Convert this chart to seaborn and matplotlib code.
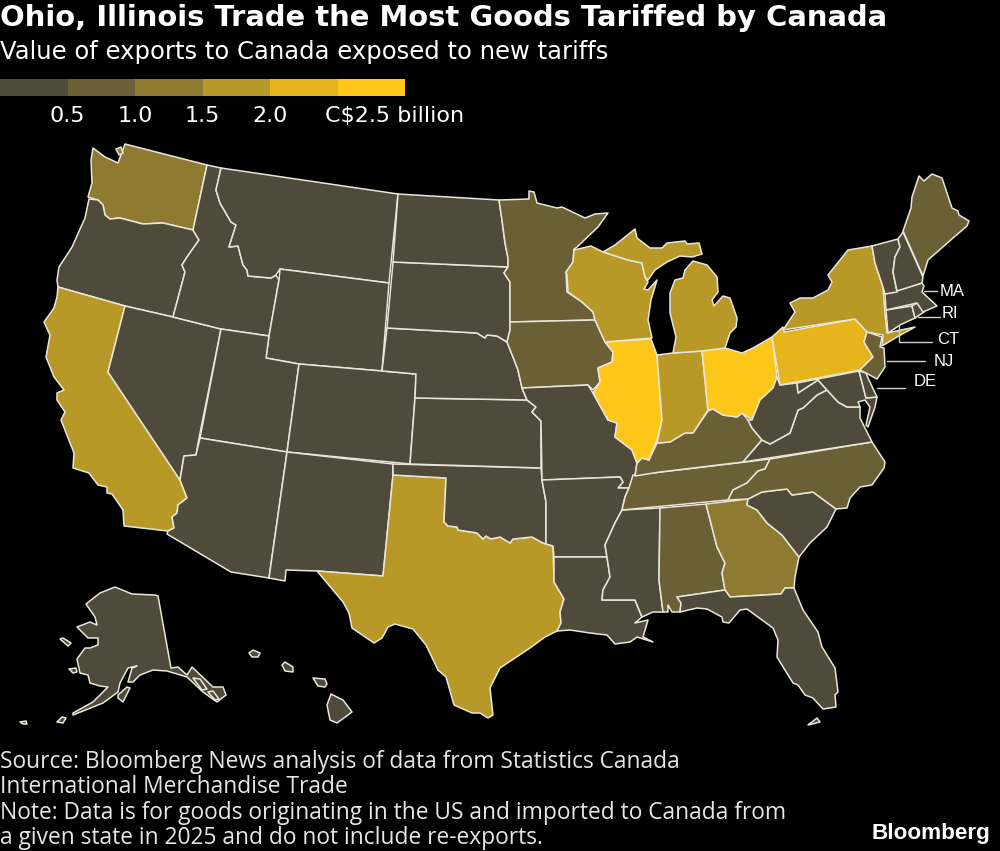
import numpy as np
import seaborn as sns
import matplotlib.pyplot as plt
from matplotlib.colors import ListedColormap, BoundaryNorm

# value bins and colours, C$ billion
bin_edges = [0, 0.5, 1.0, 1.5, 2.0, 2.5, 3.0]
bin_colors = ["#4f4a39", "#6b5f36", "#8e7b31", "#b89827", "#e6b41b", "#ffc61a"]
legend_mids = [0.25, 0.75, 1.25, 1.75, 2.25, 2.75]

# estimated from the map colours (only the bin can be read)
states = ["WA", "OR", "CA", "NV", "ID", "MT", "WY", "UT", "CO", "AZ", "NM", "TX", "OK", "KS", "NE", "SD", "ND",
          "MN", "IA", "MO", "AR", "LA", "MS", "AL", "TN", "KY", "IL", "IN", "OH", "WI", "MI", "GA", "FL", "SC",
          "NC", "VA", "WV", "MD", "DE", "PA", "NJ", "NY", "CT", "RI", "MA", "VT", "NH", "ME", "AK", "HI"]
exports = [1.25, 0.25, 1.75, 0.25, 0.25, 0.25, 0.25, 0.25, 0.25, 0.25, 0.25, 1.75, 0.25, 0.25, 0.25, 0.25, 0.25,
           0.75, 0.75, 0.25, 0.25, 0.25, 0.25, 0.75, 0.75, 0.75, 2.7, 1.75, 2.7, 1.75, 1.75, 1.25, 0.25, 0.25,
           0.75, 0.25, 0.25, 0.25, 0.25, 2.25, 0.75, 1.75, 0.25, 0.25, 0.25, 0.25, 0.25, 0.75, 0.25, 0.25]

# state outlines, map units
outlines = {
    "WA": [[(93, 148), (105, 157), (118, 163), (121, 155), (125, 144), (207, 165), (193, 230), (163, 223), (143, 224),
            (120, 218), (110, 219), (105, 215), (103, 205), (98, 200), (88, 197), (92, 183), (91, 160)],
           [(116, 149), (121, 147), (123, 153), (119, 155)]],
    "OR": [[(89, 199), (98, 200), (103, 205), (105, 215), (110, 219), (120, 218), (143, 224), (163, 223), (193, 230),
            (199, 240), (187, 257), (182, 265), (185, 272), (173, 317), (125, 306), (58, 287), (57, 280), (59, 267),
            (72, 247), (85, 218)]],
    "CA": [[(58, 287), (125, 306), (108, 372), (180, 480), (187, 498), (178, 505), (177, 513), (172, 517), (174, 528),
            (168, 531), (124, 526), (123, 510), (112, 494), (107, 493), (107, 487), (98, 485), (89, 473), (73, 468),
            (74, 453), (61, 420), (65, 412), (57, 400), (57, 393), (64, 390), (54, 377), (46, 357), (50, 335),
            (44, 322), (54, 308), (57, 297)]],
    "NV": [[(125, 306), (173, 317), (221, 329), (199, 438), (196, 455), (184, 456), (180, 480), (108, 372)]],
    "ID": [[(207, 165), (221, 168), (216, 190), (220, 203), (231, 222), (236, 225), (229, 247), (238, 246), (243, 265),
            (247, 270), (248, 276), (271, 278), (276, 275), (279, 280), (269, 336), (221, 329), (173, 317), (185, 272),
            (182, 265), (187, 257), (199, 240), (193, 230)]],
    "MT": [[(221, 168), (398, 194), (389, 283), (280, 269), (276, 275), (271, 278), (248, 276), (247, 270), (243, 265),
            (238, 246), (229, 247), (236, 225), (231, 222), (220, 203), (216, 190)]],
    "WY": [[(280, 269), (389, 283), (382, 371), (299, 364), (266, 358), (269, 336), (279, 280)]],
    "UT": [[(221, 329), (269, 336), (266, 358), (299, 364), (287, 452), (200, 438)]],
    "CO": [[(299, 364), (382, 371), (416, 374), (415, 398), (410, 464), (287, 452)]],
    "AZ": [[(200, 438), (287, 452), (269, 578), (231, 572), (167, 534), (168, 531), (174, 528), (172, 517), (177, 513),
            (178, 505), (187, 498), (180, 480), (184, 456), (196, 455)]],
    "NM": [[(287, 452), (393, 464), (393, 475), (383, 576), (317, 571), (286, 570), (285, 581), (269, 578)]],
    "TX": [[(393, 475), (446, 478), (444, 522), (448, 526), (457, 527), (458, 530), (477, 533), (483, 539), (486, 536),
            (491, 539), (500, 537), (510, 543), (513, 539), (532, 537), (543, 543), (553, 546), (554, 582), (564, 599),
            (560, 612), (561, 623), (557, 631), (545, 637), (530, 648), (500, 668), (490, 688), (493, 715), (488, 718),
            (480, 713), (472, 713), (454, 705), (446, 677), (438, 670), (426, 645), (413, 629), (395, 624), (388, 627),
            (382, 638), (374, 643), (352, 628), (349, 613), (343, 602), (317, 571), (383, 576)]],
    "OK": [[(393, 464), (541, 468), (542, 480), (546, 502), (546, 544), (543, 543), (532, 537), (513, 539), (510, 543),
            (500, 537), (491, 539), (486, 536), (483, 539), (477, 533), (458, 530), (457, 527), (448, 526), (444, 522),
            (446, 478), (393, 475)]],
    "KS": [[(415, 398), (527, 400), (536, 407), (532, 412), (541, 421), (541, 468), (410, 464)]],
    "NE": [[(387, 328), (477, 333), (485, 338), (487, 335), (497, 336), (507, 342), (513, 357), (518, 370), (522, 388),
            (527, 400), (415, 398), (416, 374), (382, 371)]],
    "SD": [[(393, 262), (508, 267), (504, 273), (510, 282), (510, 330), (507, 342), (497, 336), (487, 335), (485, 338),
            (477, 333), (387, 328)]],
    "ND": [[(398, 194), (499, 200), (502, 220), (505, 243), (508, 258), (508, 267), (393, 262)]],
    "MN": [[(499, 200), (529, 199), (529, 191), (534, 192), (537, 203), (557, 208), (562, 207), (585, 218), (595, 214),
            (608, 213), (598, 227), (577, 247), (574, 249), (573, 262), (566, 272), (567, 292), (582, 302), (593, 312),
            (595, 320), (510, 322), (510, 282), (504, 273), (508, 267), (508, 258), (505, 243), (502, 220)]],
    "IA": [[(510, 322), (595, 320), (605, 342), (613, 352), (612, 362), (598, 368), (600, 382), (593, 390), (588, 385),
            (522, 388), (518, 370), (513, 357), (507, 342), (510, 330)]],
    "MO": [[(522, 388), (588, 385), (593, 393), (608, 420), (617, 423), (615, 437), (632, 450), (637, 463), (635, 476),
            (629, 488), (618, 488), (623, 482), (620, 477), (542, 480), (541, 421), (532, 412), (536, 407), (527, 400)]],
    "AR": [[(542, 480), (620, 477), (623, 482), (618, 488), (629, 488), (625, 497), (622, 510), (615, 523), (605, 545),
            (607, 557), (554, 557), (553, 546), (546, 544), (546, 502)]],
    "LA": [[(554, 557), (607, 557), (610, 577), (603, 590), (602, 600), (635, 600), (642, 617), (635, 623), (648, 620),
            (643, 637), (653, 642), (637, 637), (630, 642), (615, 644), (607, 635), (590, 633), (570, 630), (557, 631),
            (561, 623), (560, 612), (564, 599), (554, 582)]],
    "MS": [[(622, 510), (660, 508), (659, 580), (663, 612), (653, 612), (642, 617), (635, 600), (602, 600), (603, 590),
            (610, 577), (607, 557), (605, 545), (615, 523)]],
    "AL": [[(660, 508), (706, 504), (717, 547), (725, 563), (722, 573), (725, 590), (677, 597), (681, 603), (680, 612),
            (672, 612), (668, 605), (668, 612), (663, 612), (659, 580)]],
    "TN": [[(633, 475), (661, 472), (737, 463), (770, 459), (765, 469), (758, 471), (747, 483), (733, 490), (728, 500),
            (622, 510), (625, 497), (629, 488)]],
    "KY": [[(657, 443), (670, 442), (685, 433), (693, 433), (708, 411), (713, 409), (723, 415), (737, 417), (742, 413),
            (748, 420), (752, 428), (762, 440), (743, 462), (660, 472), (635, 476), (637, 463), (642, 458), (649, 460)]],
    "IL": [[(605, 342), (651, 339), (657, 355), (662, 420), (657, 440), (652, 452), (649, 460), (642, 458), (637, 463),
            (632, 450), (615, 437), (617, 423), (608, 420), (593, 393), (600, 382), (598, 368), (612, 362), (613, 352)]],
    "IN": [[(657, 355), (673, 353), (702, 351), (708, 410), (693, 433), (685, 433), (670, 442), (657, 443), (662, 420)]],
    "OH": [[(702, 351), (725, 348), (742, 353), (753, 348), (772, 337), (777, 377), (773, 388), (760, 400), (752, 420),
            (742, 413), (737, 417), (723, 415), (713, 409), (708, 410)]],
    "WI": [[(574, 250), (591, 246), (603, 252), (628, 260), (642, 263), (645, 277), (648, 282), (644, 289), (648, 290),
            (657, 280), (651, 300), (648, 320), (652, 338), (605, 342), (595, 320), (593, 312), (582, 302), (568, 292),
            (567, 275), (566, 272), (573, 262)]],
    "MI": [[(603, 252), (615, 245), (635, 229), (637, 238), (650, 248), (662, 248), (667, 243), (685, 241), (687, 244),
            (699, 243), (702, 254), (692, 257), (680, 256), (667, 262), (655, 270), (648, 280), (645, 277), (642, 263),
            (628, 260)],
           [(693, 261), (707, 265), (717, 277), (718, 292), (712, 300), (714, 306), (723, 296), (730, 298), (737, 318),
            (736, 327), (730, 333), (725, 348), (702, 351), (673, 353), (676, 337), (670, 313), (670, 293), (675, 280),
            (683, 278), (685, 270)]],
    "GA": [[(706, 504), (748, 499), (747, 505), (757, 510), (767, 523), (782, 535), (792, 548), (799, 557), (795, 577),
            (794, 588), (785, 588), (781, 594), (730, 597), (725, 590), (722, 573), (725, 563), (717, 547)]],
    "FL": [[(677, 597), (725, 590), (730, 597), (781, 594), (785, 588), (794, 588), (803, 610), (818, 632), (822, 647),
            (835, 668), (838, 692), (835, 695), (836, 707), (823, 709), (813, 698), (805, 695), (798, 685), (793, 683),
            (777, 657), (778, 640), (773, 628), (762, 620), (747, 609), (740, 610), (729, 623), (723, 622), (722, 617),
            (707, 609), (697, 608), (680, 612), (681, 603)],
           [(808, 725), (817, 718), (820, 722)]],
    "SC": [[(748, 499), (762, 492), (787, 489), (792, 495), (813, 492), (836, 509), (827, 527), (810, 543), (799, 557),
            (792, 548), (782, 535), (767, 523), (757, 510), (747, 505)]],
    "NC": [[(770, 459), (872, 442), (885, 462), (884, 468), (872, 485), (860, 487), (850, 498), (847, 508), (836, 509),
            (813, 492), (792, 495), (787, 489), (762, 492), (748, 499), (728, 500), (733, 490), (747, 483), (758, 471),
            (765, 469)]],
    "VA": [[(827, 390), (838, 402), (847, 407), (860, 407), (860, 418), (866, 430), (872, 442), (743, 462), (762, 440),
            (770, 444), (790, 433), (798, 410), (803, 408), (817, 395)]],
    "WV": [[(777, 377), (780, 385), (797, 383), (798, 393), (818, 380), (827, 390), (817, 395), (803, 408), (798, 410),
            (790, 433), (770, 444), (762, 440), (752, 428), (748, 420), (752, 420), (760, 400), (773, 388)]],
    "MD": [[(797, 383), (859, 371), (866, 398), (877, 397), (875, 407), (868, 427), (866, 425), (870, 407), (865, 400),
            (858, 402), (860, 407), (847, 407), (838, 402), (827, 390), (818, 380), (798, 393)]],
    "DE": [[(859, 371), (866, 373), (868, 378), (877, 397), (866, 398)]],
    "PA": [[(772, 337), (783, 327), (784, 332), (855, 319), (867, 332), (864, 342), (873, 357), (860, 370), (780, 385)]],
    "NJ": [[(867, 332), (882, 337), (880, 347), (884, 348), (885, 367), (877, 379), (866, 373), (860, 370), (873, 357),
            (864, 342)]],
    "NY": [[(783, 330), (795, 312), (790, 303), (800, 298), (813, 298), (828, 290), (832, 282), (828, 275), (848, 250),
            (872, 246), (875, 263), (883, 287), (885, 313), (887, 333), (915, 327), (897, 337), (882, 346), (883, 335),
            (867, 332), (855, 319)]],
    "CT": [[(886, 310), (912, 306), (915, 318), (900, 325), (888, 333)]],
    "RI": [[(912, 306), (917, 303), (924, 312), (915, 318)]],
    "MA": [[(885, 294), (922, 283), (924, 286), (922, 292), (937, 306), (923, 312), (917, 303), (886, 310)]],
    "VT": [[(872, 246), (898, 239), (900, 247), (895, 257), (893, 272), (897, 292), (885, 294), (883, 287), (875, 263)]],
    "NH": [[(898, 239), (903, 232), (923, 277), (922, 283), (897, 291), (893, 272), (895, 257), (900, 247)]],
    "ME": [[(903, 231), (911, 208), (912, 197), (919, 176), (924, 181), (932, 174), (942, 178), (952, 208), (958, 211),
            (959, 215), (969, 221), (967, 226), (953, 238), (928, 260), (923, 276)]],
    "AK": [[(158, 596), (171, 668), (178, 667), (187, 675), (192, 667), (213, 687), (223, 687), (226, 695), (217, 702),
            (203, 692), (187, 677), (167, 671), (153, 670), (140, 675), (133, 682), (128, 682), (132, 668), (137, 666),
            (128, 668), (120, 683), (118, 692), (103, 703), (93, 707), (73, 715), (73, 713), (93, 702), (108, 687),
            (100, 686), (90, 683), (88, 675), (80, 673), (77, 659), (85, 648), (90, 648), (98, 645), (98, 638), (88, 638),
            (77, 627), (90, 622), (97, 625), (95, 617), (86, 604), (100, 593), (115, 587), (132, 594), (155, 595)],
           [(118, 695), (127, 687), (130, 688), (123, 702), (118, 698)],
           [(60, 639), (63, 638), (71, 643), (68, 646)],
           [(69, 669), (76, 668), (77, 672), (73, 673)],
           [(57, 722), (62, 717), (66, 718), (63, 723)],
           [(20, 722), (26, 721), (27, 724), (23, 724)],
           [(193, 678), (200, 679), (207, 689), (202, 690)],
           [(208, 692), (213, 691), (219, 699), (215, 700)]],
    "HI": [[(331, 694), (343, 700), (352, 712), (337, 723), (330, 720), (327, 705)],
           [(313, 678), (325, 679), (327, 684), (325, 687), (318, 686)],
           [(285, 662), (293, 667), (293, 672), (285, 671), (282, 665)],
           [(253, 650), (260, 653), (258, 657), (252, 657), (249, 653)]],
}

callouts = ["MA", "RI", "CT", "NJ", "DE"]
callout_x = [940, 942, 937, 934, 914]
callout_y = [292, 314, 339, 361, 381]
leaders = [[(924, 291), (937, 291)], [(918, 317), (940, 317)], [(899, 325), (899, 342), (932, 342)],
           [(887, 361), (925, 361)], [(877, 388), (905, 388)]]

legend_ticks = ["0.5", "1.0", "1.5", "2.0"]
legend_tick_x = [67, 135, 202, 270]

title = "Ohio, Illinois Trade the Most Goods Tariffed by Canada"
subtitle = "Value of exports to Canada exposed to new tariffs"
footnote = ["Source: Bloomberg News analysis of data from Statistics Canada",
            "International Merchandise Trade",
            "Note: Data is for goods originating in the US and imported to Canada from",
            "a given state in 2025 and do not include re-exports."]

sns.set_theme(style="white")
plt.rcParams["font.family"] = "DejaVu Sans"
palette = sns.color_palette(bin_colors)
line_col = "#e9e6da"

fig = plt.figure(figsize=(10, 8.51), dpi=100, facecolor="black")
ax = fig.add_axes([0, 0, 1, 1], facecolor="black")
ax.set_xlim(0, 1000)
ax.set_ylim(851, 0)
ax.axis("off")

for name, val in zip(states, exports):
    col = palette[np.digitize(val, bin_edges) - 1]
    for ring in outlines[name]:
        xs, ys = zip(*ring)
        ax.fill(xs, ys, facecolor=col, edgecolor=line_col, linewidth=1.1, joinstyle="round")

# small state callouts
for lab, x, y, pts in zip(callouts, callout_x, callout_y, leaders):
    xs, ys = zip(*pts)
    ax.plot(xs, ys, color="#cfcfcf", linewidth=1.0)
    ax.text(x, y, lab, color="white", fontsize=12, family="Liberation Sans", va="center", ha="left")

# legend strip
leg_ax = fig.add_axes([0, 1 - 96 / 851, 0.405, 17 / 851])
sns.heatmap(np.array([legend_mids]), ax=leg_ax, cmap=ListedColormap(palette),
            norm=BoundaryNorm(bin_edges, len(bin_colors)), cbar=False,
            xticklabels=False, yticklabels=False)
for lab, x in zip(legend_ticks, legend_tick_x):
    ax.text(x, 116, lab, color="white", fontsize=16, ha="center", va="center")
ax.text(325, 116, "C$2.5 billion", color="white", fontsize=16, ha="left", va="center")

ax.text(0, 18, title, color="white", fontsize=20.9, fontweight="bold", va="center", ha="left")
ax.text(0, 52, subtitle, color="white", fontsize=17.5, va="center", ha="left")
for i, line in enumerate(footnote):
    ax.text(0, 762 + i * 25.3, line, color="#e6e6e6", fontsize=16.4, va="center", ha="left", family="Open Sans")
ax.text(990, 833, "Bloomberg", color="white", fontsize=16.2, fontweight="bold", va="center", ha="right",
        family="Liberation Sans")

fig.savefig("out.png", dpi=100, facecolor="black")
